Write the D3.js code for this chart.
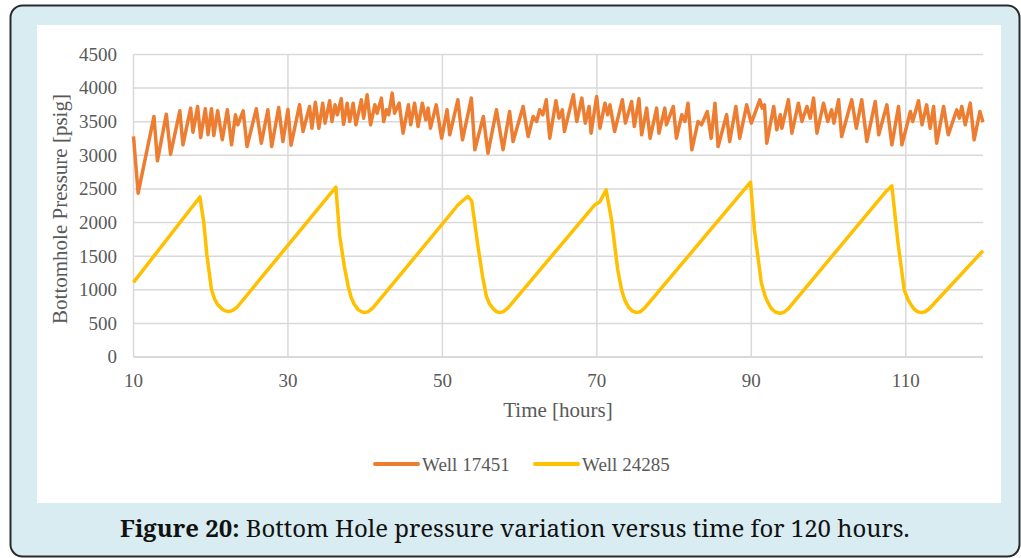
<!DOCTYPE html>
<html>
<head>
<meta charset="utf-8">
<script src="https://cdn.jsdelivr.net/npm/d3@7"></script>
<style>
  body { margin: 0; background: #fff; }
  svg { display: block; }
  .serif { font-family: "Liberation Serif", "Times New Roman", serif; }
</style>
</head>
<body>
<svg id="chart" width="1021" height="558"></svg>
<script>
var xTicks = [10, 30, 50, 70, 90, 110];
var yTicks = [0, 500, 1000, 1500, 2000, 2500, 3000, 3500, 4000, 4500];
var seriesNames = ["Well 17451", "Well 24285"];

// [hours, psig]
var well17451 = [
  [10,3280],[10.6,2436],[12.65,3577],[13.1,2917],[14.25,3611],[14.8,3016],[16.0,3661],[16.4,3155],
  [17.4,3700],[17.7,3344],[18.3,3726],[18.7,3264],[19.3,3691],[19.65,3304],[20.1,3691],[20.4,3294],
  [20.9,3661],[21.5,3230],[22.15,3676],[22.7,3155],[23.2,3602],[23.5,3453],[24.2,3661],[24.7,3130],
  [25.9,3691],[26.55,3180],[27.4,3676],[27.9,3130],[28.8,3711],[29.35,3205],[30.0,3680],[30.4,3150],
  [31.5,3750],[31.95,3354],[32.8,3726],[33.1,3403],[33.55,3790],[34.0,3403],[34.5,3775],[34.8,3478],
  [35.4,3810],[35.7,3502],[36.1,3750],[36.4,3602],[36.9,3840],[37.2,3460],[37.67,3775],[38.0,3502],
  [38.45,3775],[38.8,3453],[39.5,3825],[39.8,3552],[40.25,3899],[40.7,3453],[41.25,3750],[41.55,3626],
  [42.1,3850],[42.4,3502],[42.75,3676],[43.05,3602],[43.5,3924],[43.8,3626],[44.4,3775],[44.9,3329],
  [45.6,3750],[45.9,3453],[46.4,3775],[46.85,3428],[47.4,3775],[47.85,3527],[48.15,3701],[48.45,3403],
  [49.2,3750],[49.9,3254],[50.6,3676],[50.95,3304],[52.0,3825],[52.6,3230],[53.75,3850],[54.2,3081],
  [55.3,3577],[55.9,3031],[57.0,3676],[57.85,3081],[58.7,3651],[59.15,3205],[60.45,3726],[61.1,3279],
  [61.75,3577],[62.2,3502],[62.6,3676],[63.0,3602],[63.45,3825],[63.9,3254],[64.7,3810],[65.1,3552],
  [65.53,3676],[65.8,3354],[66.95,3899],[67.4,3502],[68.05,3850],[68.5,3478],[69.0,3726],[69.25,3329],
  [69.97,3874],[70.4,3403],[71.05,3775],[71.4,3602],[71.7,3750],[72.3,3354],[73.3,3825],[73.7,3478],
  [74.5,3800],[74.85,3428],[75.45,3840],[75.8,3304],[76.45,3701],[76.9,3254],[77.74,3701],[78.04,3329],
  [78.8,3701],[79.0,3453],[79.9,3726],[80.3,3254],[81.0,3602],[81.4,3502],[81.8,3775],[82.3,3081],
  [83.1,3502],[83.55,3453],[84.3,3651],[84.8,3254],[85.3,3775],[85.7,3130],[86.8,3602],[87.2,3205],
  [88.0,3726],[88.5,3254],[89.4,3750],[90.0,3478],[91.1,3825],[91.4,3701],[91.7,3750],[92.0,3180],
  [92.9,3726],[93.3,3378],[93.75,3602],[93.96,3403],[94.8,3825],[95.25,3329],[96.1,3775],[96.55,3502],
  [97.2,3726],[97.63,3552],[98.06,3850],[98.5,3329],[99.35,3775],[99.9,3502],[100.4,3676],[100.7,3478],
  [101.3,3825],[101.7,3279],[103.0,3825],[103.6,3403],[104.3,3825],[104.96,3205],[106.05,3800],[106.5,3304],
  [107.55,3750],[108.2,3155],[109.06,3726],[109.5,3155],[110.6,3651],[110.9,3502],[111.65,3810],[112.1,3453],
  [112.7,3750],[113.16,3403],[113.6,3726],[114.0,3180],[114.9,3726],[115.5,3304],[116.6,3676],[116.95,3552],
  [117.25,3726],[117.7,3453],[118.35,3775],[118.85,3230],[119.6,3650],[120,3490]
];

var well24285 = [
  [10,1110],[18.6,2380],[19.1,2000],[19.5,1520],[20.1,1000],[20.5,860],[20.9,780],[21.4,720],[21.8,690],[22.3,675],[22.8,690],[23.4,740],
  [36.2,2525],[36.7,1800],[37.3,1350],[37.8,1050],[38.2,880],[38.6,780],[39.1,705],[39.5,675],[39.9,660],[40.4,675],[41.0,730],
  [51.3,2160],[52,2260],[53.3,2390],[53.8,2320],[54.6,1650],[55.2,1200],[55.7,900],[56.1,790],[56.6,715],[57.0,675],[57.4,660],[57.9,675],[58.5,730],
  [69.7,2260],[70.4,2310],[71.2,2485],[71.9,2040],[72.7,1300],[73.2,1000],[73.6,850],[74.1,740],[74.6,685],[75.1,660],[75.6,672],[76.2,730],
  [89.9,2600],[90.4,1890],[91.3,1100],[91.8,900],[92.2,800],[92.6,720],[93.1,670],[93.7,650],[94.2,662],[94.8,720],
  [107.5,2470],[108.2,2545],[109,1690],[109.8,1000],[110.3,850],[110.7,775],[111.1,710],[111.5,675],[112,660],[112.5,672],[113.1,725],[120,1580]
];

var colors = ["#ed7d31", "#ffc000"];
var textColor = "#595959";
var gridColor = "#d9d9d9";

var svg = d3.select("#chart");

// frame
svg.append("rect")
    .attr("x", 10.5).attr("y", 5.5)
    .attr("width", 1009).attr("height", 551)
    .attr("rx", 12).attr("ry", 12)
    .style("fill", "#d8ecf1")
    .style("stroke", "#2b2b2b")
    .style("stroke-width", 2);

svg.append("rect")
    .attr("x", 37).attr("y", 25)
    .attr("width", 964).attr("height", 478)
    .style("fill", "#fff");

var x = d3.scaleLinear().domain([10, 120]).range([133.5, 983]);
var y = d3.scaleLinear().domain([0, 4500]).range([357, 54.4]);

// grid
svg.append("g").selectAll("line")
    .data(yTicks)
    .enter().append("line")
    .attr("x1", x(10)).attr("x2", x(120))
    .attr("y1", function(d) { return y(d); })
    .attr("y2", function(d) { return y(d); })
    .style("stroke", gridColor)
    .style("stroke-width", function(d) { return d == 0 ? 2 : 1.5; });

svg.append("g").selectAll("line")
    .data(xTicks)
    .enter().append("line")
    .attr("x1", function(d) { return x(d); })
    .attr("x2", function(d) { return x(d); })
    .attr("y1", y(4500)).attr("y2", y(0))
    .style("stroke", gridColor)
    .style("stroke-width", 1.5);

// tick labels
svg.append("g").selectAll("text")
    .data(yTicks)
    .enter().append("text")
    .attr("class", "serif")
    .attr("x", 117)
    .attr("y", function(d) { return y(d); })
    .attr("dy", "0.34em")
    .attr("text-anchor", "end")
    .style("font-size", "19px")
    .style("fill", textColor)
    .text(function(d) { return d; });

svg.append("g").selectAll("text")
    .data(xTicks)
    .enter().append("text")
    .attr("class", "serif")
    .attr("x", function(d) { return x(d); })
    .attr("y", 387)
    .attr("text-anchor", "middle")
    .style("font-size", "19px")
    .style("fill", textColor)
    .text(function(d) { return d; });

// axis titles
svg.append("text")
    .attr("class", "serif")
    .attr("x", 558).attr("y", 417)
    .attr("text-anchor", "middle")
    .style("font-size", "21px")
    .style("fill", textColor)
    .text("Time [hours]");

svg.append("text")
    .attr("class", "serif")
    .attr("transform", "translate(67,209) rotate(-90)")
    .attr("text-anchor", "middle")
    .style("font-size", "21px")
    .style("fill", textColor)
    .text("Bottomhole Pressure [psig]");

// series
var line = d3.line()
    .x(function(d) { return x(d[0]); })
    .y(function(d) { return y(d[1]); });

svg.append("path")
    .datum(well24285)
    .attr("d", line)
    .style("fill", "none")
    .style("stroke", colors[1])
    .style("stroke-width", 3.5)
    .style("stroke-linejoin", "round");

svg.append("path")
    .datum(well17451)
    .attr("d", line)
    .style("fill", "none")
    .style("stroke", colors[0])
    .style("stroke-width", 3.5)
    .style("stroke-linejoin", "round");

// legend
var legendX = [375, 535];
var legend = svg.append("g").selectAll("g")
    .data(seriesNames)
    .enter().append("g")
    .attr("transform", function(d, i) { return "translate(" + legendX[i] + ",464)"; });

legend.append("line")
    .attr("x1", 0).attr("x2", 43)
    .style("stroke", function(d, i) { return colors[i]; })
    .style("stroke-width", 4)
    .style("stroke-linecap", "round");

legend.append("text")
    .attr("class", "serif")
    .attr("x", 47).attr("y", 7)
    .style("font-size", "19px")
    .style("fill", textColor)
    .text(function(d) { return d; });

// caption
var caption = svg.append("text")
    .attr("x", 120).attr("y", 537)
    .style("font-family", "'Noto Serif', serif")
    .style("font-size", "22px")
    .style("fill", "#111");
caption.append("tspan").style("font-weight", "bold").text("Figure 20:");
caption.append("tspan").text(" Bottom Hole pressure variation versus time for 120 hours.");

var w = caption.node().getComputedTextLength();
caption.style("font-size", (22 * 790 / w) + "px");
</script>
</body>
</html>
